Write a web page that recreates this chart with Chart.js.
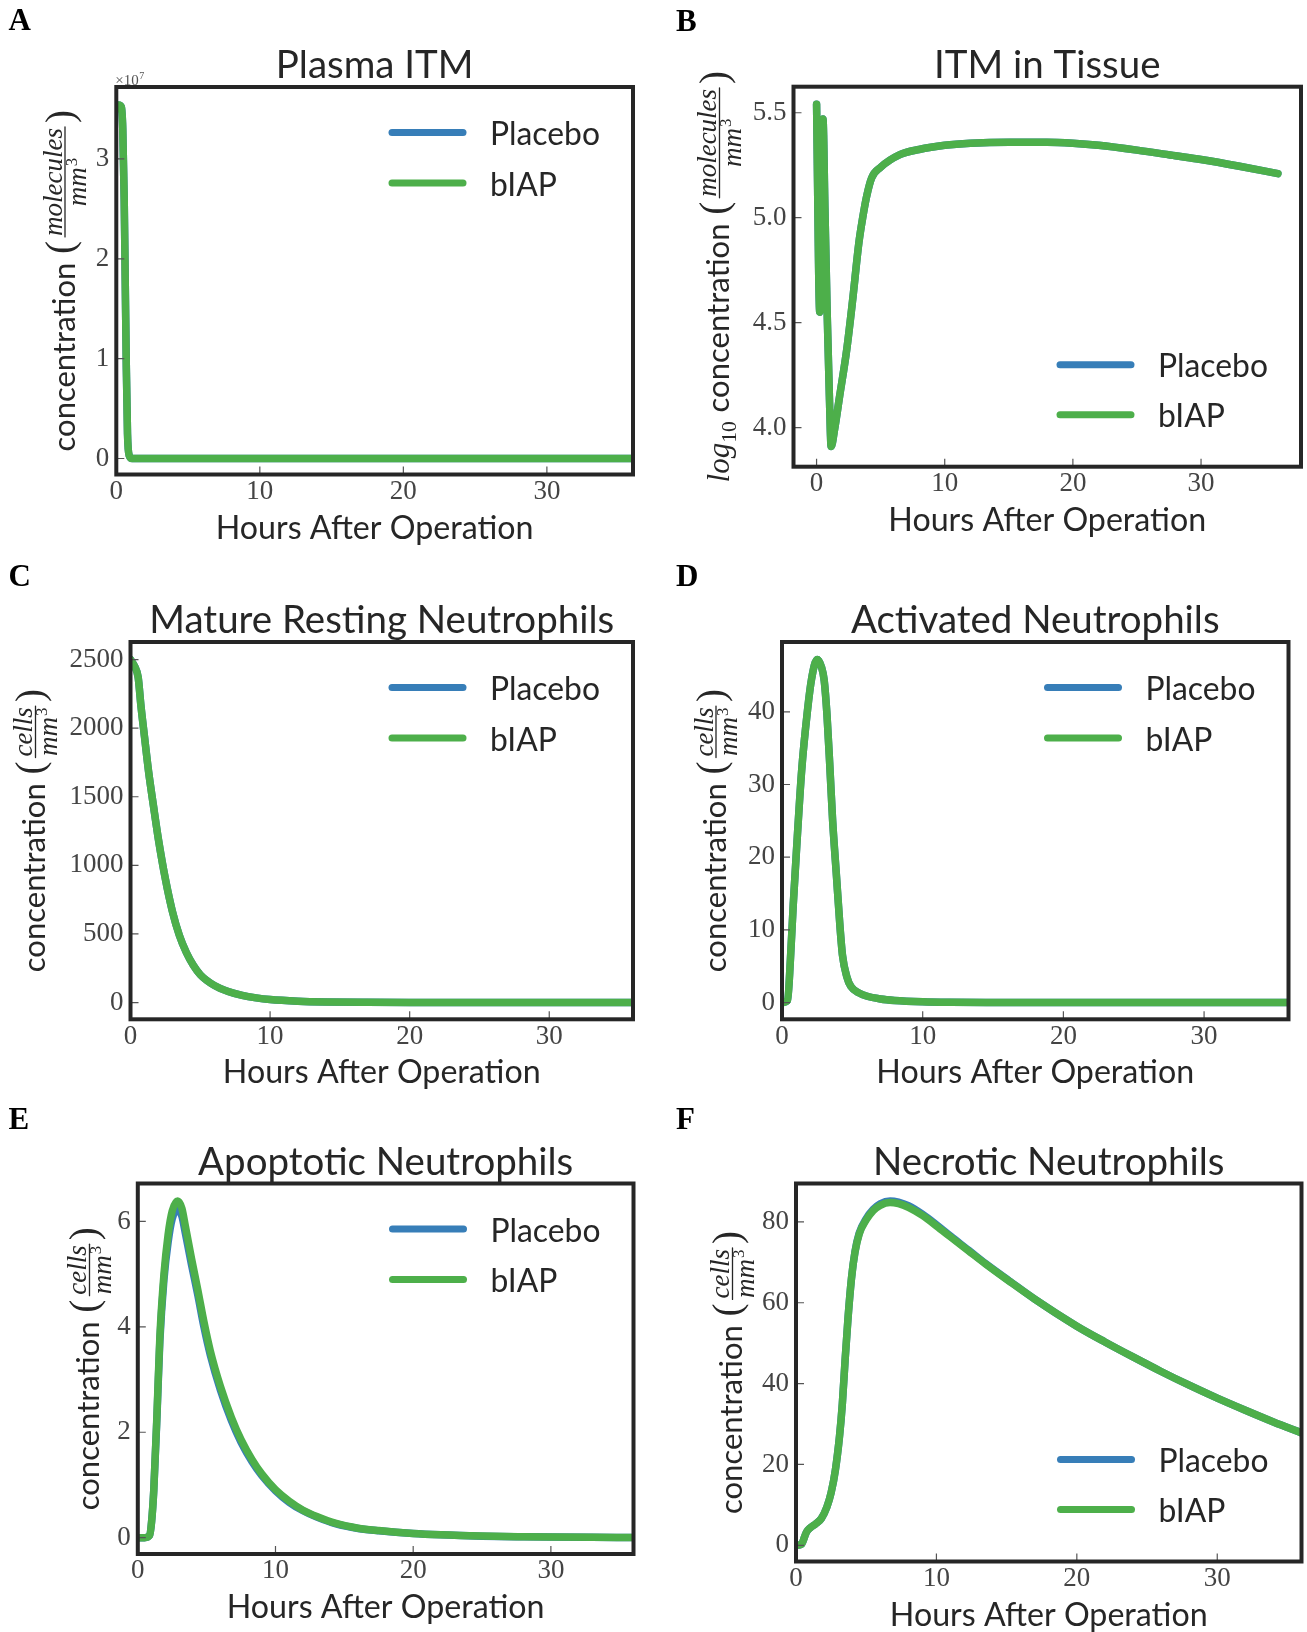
<!DOCTYPE html>
<html>
<head>
<meta charset="utf-8">
<script src="https://cdn.jsdelivr.net/npm/chart.js@4.4.1/dist/chart.umd.min.js"></script>
<style>
  html, body { margin: 0; padding: 0; background: #ffffff; width: 1307px; height: 1632px; overflow: hidden; }
  canvas { position: absolute; left: 0; top: 0; }
</style>
</head>
<body>
<script>
// ---------------- DATA ----------------
const seriesNames = ['Placebo', 'bIAP'];
const panelTitles = ['Plasma ITM', 'ITM in Tissue', 'Mature Resting Neutrophils', 'Activated Neutrophils', 'Apoptotic Neutrophils', 'Necrotic Neutrophils'];
const xTickValues = [0, 10, 20, 30];
const xTickLabels = ['0', '10', '20', '30'];

// A: Plasma ITM (molecules / mm^3)
const hoursA   = [0, 0.15, 0.35, 0.45, 0.55, 0.62, 0.7, 0.78, 0.9, 1.1, 2, 5, 10, 20, 30, 36];
const placeboA = [35000000, 35400000, 35200000, 33000000, 26000000, 18000000, 9000000, 2500000, 300000, 0, 0, 0, 0, 0, 0, 0];
const biapA    = [35000000, 35400000, 35200000, 33000000, 26000000, 18000000, 9000000, 2500000, 300000, 0, 0, 0, 0, 0, 0, 0];
const yTicksA  = [0, 10000000, 20000000, 30000000];
const yLabelsA = ['0', '1', '2', '3'];

// B: ITM in Tissue (log10)
const hoursB   = [0, 0.25, 0.5, 0.65, 0.83, 1.0, 1.14, 1.4, 1.8, 2.35, 2.8, 3.3, 3.6, 3.9, 4.3, 5.0, 6.5, 8, 10, 12, 15, 18, 20, 22, 25, 28, 30, 33, 36];
const placeboB = [5.54, 4.55, 5.47, 5.05, 4.54, 4.15, 3.91, 3.99, 4.15, 4.37, 4.60, 4.88, 5.00, 5.10, 5.19, 5.24, 5.30, 5.325, 5.345, 5.355, 5.36, 5.36, 5.355, 5.345, 5.322, 5.295, 5.277, 5.245, 5.21];
const biapB    = [5.54, 4.55, 5.47, 5.05, 4.54, 4.15, 3.91, 3.99, 4.15, 4.37, 4.60, 4.88, 5.00, 5.10, 5.19, 5.24, 5.30, 5.325, 5.345, 5.355, 5.36, 5.36, 5.355, 5.345, 5.322, 5.295, 5.277, 5.245, 5.21];
const yTicksB  = [4.0, 4.5, 5.0, 5.5];
const yLabelsB = ['4.0', '4.5', '5.0', '5.5'];

// C: Mature Resting Neutrophils
const hoursC   = [0, 0.3, 0.55, 0.75, 1.0, 1.3, 1.65, 2.0, 2.5, 3.0, 3.5, 4.0, 4.5, 5.0, 6.0, 7.0, 8.0, 9.0, 10, 12, 14, 17, 20, 25, 30, 36];
const placeboC = [2500, 2450, 2370, 2160, 1940, 1680, 1430, 1190, 900, 665, 490, 365, 272, 203, 125, 80, 52, 34, 22, 10, 4.5, 1.5, 0.5, 0.1, 0, 0];
const biapC    = [2500, 2450, 2370, 2160, 1940, 1680, 1430, 1190, 900, 665, 490, 365, 272, 203, 125, 80, 52, 34, 22, 10, 4.5, 1.5, 0.5, 0.1, 0, 0];
const yTicksC  = [0, 500, 1000, 1500, 2000, 2500];
const yLabelsC = ['0', '500', '1000', '1500', '2000', '2500'];

// D: Activated Neutrophils
const hoursD   = [0, 0.4, 0.6, 0.8, 1.0, 1.4, 1.8, 2.1, 2.5, 2.8, 3.0, 3.2, 3.4, 3.6, 3.85, 4.1, 4.3, 4.6, 4.9, 5.5, 6, 7, 8, 10, 12, 15, 20, 25, 30, 36];
const placeboD = [0, 0.3, 6, 13.5, 20, 32, 40, 44.5, 47.2, 46.2, 44.3, 39.5, 32.5, 25, 18, 11, 6.5, 3.6, 2.2, 1.3, 0.9, 0.5, 0.3, 0.12, 0.05, 0.02, 0.01, 0, 0, 0];
const biapD    = [0, 0.3, 6, 13.5, 20, 32, 40, 44.5, 47.2, 46.2, 44.3, 39.5, 32.5, 25, 18, 11, 6.5, 3.6, 2.2, 1.3, 0.9, 0.5, 0.3, 0.12, 0.05, 0.02, 0.01, 0, 0, 0];
const yTicksD  = [0, 10, 20, 30, 40];
const yLabelsD = ['0', '10', '20', '30', '40'];

// E: Apoptotic Neutrophils
const hoursE   = [0, 0.5, 0.85, 1.0, 1.16, 1.4, 1.6, 1.9, 2.2, 2.5, 2.9, 3.2, 3.45, 3.9, 4.36, 4.8, 5.27, 6.0, 6.8, 7.5, 8.3, 9, 10, 11, 12, 13, 14.4, 16, 17.5, 20, 22, 25, 28, 30, 33, 36];
const placeboE = [0, 0, 0.04, 0.3, 0.9, 2.35, 3.72, 4.9, 5.6, 6.05, 6.22, 6.1, 5.78, 5.18, 4.6, 4.0, 3.46, 2.8, 2.22, 1.81, 1.44, 1.18, 0.89, 0.67, 0.51, 0.39, 0.26, 0.175, 0.13, 0.078, 0.053, 0.029, 0.017, 0.011, 0.006, 0.004];
const biapE    = [0, 0, 0.04, 0.3, 0.9, 2.4, 3.8, 5.0, 5.75, 6.2, 6.39, 6.25, 5.92, 5.3, 4.7, 4.1, 3.54, 2.87, 2.28, 1.86, 1.48, 1.21, 0.91, 0.69, 0.52, 0.40, 0.27, 0.18, 0.135, 0.08, 0.054, 0.03, 0.017, 0.011, 0.006, 0.004];
const yTicksE  = [0, 2, 4, 6];
const yLabelsE = ['0', '2', '4', '6'];

// F: Necrotic Neutrophils
const hoursF   = [0, 0.4, 0.6, 0.75, 1.0, 1.4, 1.8, 2.2, 2.5, 2.8, 3.1, 3.3, 3.5, 3.7, 3.95, 4.2, 4.5, 5.0, 5.5, 6.0, 6.7, 7.3, 8.0, 9.0, 10, 11, 12.3, 13.5, 15.2, 17, 20, 22, 24, 26, 28, 30, 32, 34, 36];
const placeboF = [0, 0.3, 2.0, 3.3, 4.3, 5.3, 6.6, 9.5, 13, 18.5, 27, 35, 46, 56, 66, 72.6, 77.2, 80.8, 83.1, 84.5, 85.2, 84.9, 84.0, 81.9, 79.3, 76.5, 73.0, 69.7, 65.4, 60.9, 54.2, 50.3, 46.6, 43.0, 39.6, 36.4, 33.4, 30.5, 27.8];
const biapF    = [0, 0.3, 2.0, 3.3, 4.3, 5.3, 6.6, 9.5, 13, 18.5, 27, 35, 46, 56, 66, 72.5, 77, 80.5, 82.8, 84.1, 84.8, 84.5, 83.6, 81.6, 79.0, 76.3, 72.8, 69.6, 65.3, 60.9, 54.2, 50.3, 46.6, 43.0, 39.6, 36.4, 33.4, 30.5, 27.8];
const yTicksF  = [0, 20, 40, 60, 80];
const yLabelsF = ['0', '20', '40', '60', '80'];

// ---------------- STYLE / LAYOUT ----------------
const COLORS = ['#377eb8', '#4daf4a'];
const TEXT = '#262626';
const TICKTEXT = '#444444';
const SPINE = '#262626';
const TICKMARK = '#555555';
const SANS = 'Lato';
const SERIF = '"Liberation Serif"';

const mctx = document.createElement('canvas').getContext('2d');
function fitSize(style, family, text, target) {
  mctx.font = style + ' 100px ' + family;
  return 100 * target / mctx.measureText(text).width;
}
const SIZES = {
  title: fitSize('', SANS, 'Mature Resting Neutrophils', 465),
  legend: fitSize('', SANS, 'Placebo', 110),
  xlab: fitSize('', SANS, 'Hours After Operation', 318),
  conc: fitSize('', SANS, 'concentration', 189),
  frac: fitSize('italic', SERIF, 'molecules', 108),
  paren: 39,
  tick: 27
};

const PANELS = [
  { letter: 'A', lx: 8.5, ly: 30, title: panelTitles[0], area: {L: 116.3, T: 87, R: 633, B: 474.5},
    xMin: 0, xMax: 36, yMin: -1600000, yMax: 37200000, yTicks: yTicksA, yLabels: yLabelsA,
    hours: hoursA, placebo: placeboA, biap: biapA, legend: 'top', log: false, numer: 'molecules', labelX: 74.5, offset: true },
  { letter: 'B', lx: 676, ly: 30.5, title: panelTitles[1], area: {L: 793.5, T: 86.7, R: 1301, B: 466.7},
    xMin: -1.8, xMax: 37.8, yMin: 3.814, yMax: 5.624, yTicks: yTicksB, yLabels: yLabelsB,
    hours: hoursB, placebo: placeboB, biap: biapB, legend: 'bottom', log: true, numer: 'molecules', labelX: 729 },
  { letter: 'C', lx: 8.5, ly: 586, title: panelTitles[2], area: {L: 130.5, T: 642, R: 633, B: 1019.3},
    xMin: 0, xMax: 36, yMin: -122, yMax: 2628, yTicks: yTicksC, yLabels: yLabelsC,
    hours: hoursC, placebo: placeboC, biap: biapC, legend: 'top', log: false, numer: 'cells', labelX: 45 },
  { letter: 'D', lx: 676, ly: 586, title: panelTitles[3], area: {L: 782, T: 642, R: 1288.5, B: 1019.3},
    xMin: 0, xMax: 36, yMin: -2.3, yMax: 49.6, yTicks: yTicksD, yLabels: yLabelsD,
    hours: hoursD, placebo: placeboD, biap: biapD, legend: 'top', log: false, numer: 'cells', labelX: 725.5 },
  { letter: 'E', lx: 8.5, ly: 1129, title: panelTitles[4], area: {L: 137.8, T: 1183.5, R: 633.5, B: 1554},
    xMin: 0, xMax: 36, yMin: -0.31, yMax: 6.72, yTicks: yTicksE, yLabels: yLabelsE,
    hours: hoursE, placebo: placeboE, biap: biapE, legend: 'top', log: false, numer: 'cells', labelX: 99 },
  { letter: 'F', lx: 676, ly: 1129, title: panelTitles[5], area: {L: 796, T: 1183.5, R: 1301.5, B: 1561.5},
    xMin: 0, xMax: 36, yMin: -4.0, yMax: 89.5, yTicks: yTicksF, yLabels: yLabelsF,
    hours: hoursF, placebo: placeboF, biap: biapF, legend: 'bottom', log: false, numer: 'cells', labelX: 742 }
];

function toPoints(xs, ys) { return xs.map((x, i) => ({x: x, y: ys[i]})); }

function drawYLabel(ctx, p) {
  const cy = (p.area.T + p.area.B) / 2;
  ctx.save();
  ctx.translate(p.labelX, cy);
  ctx.rotate(-Math.PI / 2);
  ctx.fillStyle = TEXT; ctx.strokeStyle = TEXT;
  ctx.textBaseline = 'alphabetic'; ctx.textAlign = 'left';
  const fLog = 'italic ' + SIZES.conc + 'px ' + SERIF;
  const fSub = (SIZES.conc * 0.7) + 'px ' + SERIF;
  const fConc = SIZES.conc + 'px ' + SANS;
  const fParen = SIZES.paren + 'px ' + SERIF;
  const fFrac = 'italic ' + SIZES.frac + 'px ' + SERIF;
  const fSup = (SIZES.frac * 0.62) + 'px ' + SERIF;
  const W = (f, t) => { ctx.font = f; return ctx.measureText(t).width; };
  const space = SIZES.conc * 0.28;
  let wLog = 0;
  if (p.log) wLog = W(fLog, 'log') + W(fSub, '10') + space;
  const wConc = W(fConc, 'concentration');
  const wPar = W(fParen, '(');
  const wNum = W(fFrac, p.numer);
  const wMm = W(fFrac, 'mm');
  const wSup = W(fSup, '3');
  const wDen = wMm + wSup + 1;
  const wFrac = Math.max(wNum, wDen) + 4;
  const gap = 3;
  const total = wLog + wConc + space + wPar + gap + wFrac + gap + wPar;
  let u = -total / 2;
  if (p.log) {
    ctx.font = fLog; ctx.fillText('log', u, 0); u += W(fLog, 'log');
    ctx.font = fSub; ctx.fillText('10', u, 7); u += W(fSub, '10') + space;
  }
  ctx.font = fConc; ctx.fillText('concentration', u, 0); u += wConc + space;
  ctx.font = fParen; ctx.fillText('(', u, -2); u += wPar + gap;
  const fc = u + wFrac / 2;
  ctx.textAlign = 'center'; ctx.font = fFrac; ctx.fillText(p.numer, fc, -13);
  ctx.lineWidth = 1.3; ctx.beginPath(); ctx.moveTo(u + 1, -9.5); ctx.lineTo(u + wFrac - 1, -9.5); ctx.stroke();
  ctx.textAlign = 'left';
  const dx = fc - wDen / 2;
  ctx.font = fFrac; ctx.fillText('mm', dx, 11.5);
  ctx.font = fSup; ctx.fillText('3', dx + wMm + 1, 2);
  u += wFrac + gap;
  ctx.font = fParen; ctx.fillText(')', u, -2);
  ctx.restore();
}

function makePanel(p) {
  const canvas = document.createElement('canvas');
  canvas.width = 1307; canvas.height = 1632;
  document.body.appendChild(canvas);
  const {L, T, R, B} = p.area;
  const YW = 75, XH = 32;
  const decor = {
    id: 'decor' + p.letter,
    afterDraw(chart) {
      const ctx = chart.ctx;
      const ca = chart.chartArea;
      const xs = chart.scales.x, ys = chart.scales.y;
      ctx.save();
      // inward tick marks
      ctx.strokeStyle = TICKMARK; ctx.lineWidth = 1.2;
      ctx.beginPath();
      xs.ticks.forEach(t => { const px = xs.getPixelForValue(t.value); ctx.moveTo(px, ca.bottom); ctx.lineTo(px, ca.bottom - 8); });
      ys.ticks.forEach(t => { const py = ys.getPixelForValue(t.value); ctx.moveTo(ca.left, py); ctx.lineTo(ca.left + 8, py); });
      ctx.stroke();
      // frame
      ctx.strokeStyle = SPINE; ctx.lineWidth = 4;
      ctx.strokeRect(ca.left, ca.top, ca.right - ca.left, ca.bottom - ca.top);
      // title
      ctx.fillStyle = TEXT; ctx.textAlign = 'center'; ctx.textBaseline = 'alphabetic';
      ctx.font = SIZES.title + 'px ' + SANS;
      ctx.fillText(p.title, (ca.left + ca.right) / 2, ca.top - 9);
      // x label
      ctx.font = SIZES.xlab + 'px ' + SANS;
      ctx.fillText('Hours After Operation', (ca.left + ca.right) / 2, ca.bottom + 64);
      // legend
      const rows = p.legend === 'top' ? [ca.top + 45.5, ca.top + 96] : [ca.bottom - 102, ca.bottom - 52];
      chart.data.datasets.forEach((ds, i) => {
        const y = rows[i];
        ctx.strokeStyle = ds.borderColor; ctx.lineWidth = 7; ctx.lineCap = 'round';
        ctx.beginPath(); ctx.moveTo(ca.right - 241, y); ctx.lineTo(ca.right - 170, y); ctx.stroke();
        ctx.fillStyle = TEXT; ctx.textAlign = 'left'; ctx.font = SIZES.legend + 'px ' + SANS;
        ctx.fillText(ds.label, ca.right - 143, y + 12.5);
      });
      // y label
      drawYLabel(ctx, p);
      // offset text
      if (p.offset) {
        ctx.fillStyle = '#555'; ctx.textAlign = 'left';
        ctx.font = '15px ' + SERIF;
        ctx.fillText('\u00d710', ca.left - 1, ca.top - 2);
        const w = ctx.measureText('\u00d710').width;
        ctx.font = '10px ' + SERIF;
        ctx.fillText('7', ca.left - 1 + w + 0.5, ca.top - 8);
      }
      // panel letter
      ctx.fillStyle = '#000'; ctx.textAlign = 'left';
      ctx.font = 'bold 31px ' + SERIF;
      ctx.fillText(p.letter, p.lx, p.ly);
      ctx.restore();
    }
  };
  const common = { borderWidth: 7.5, pointRadius: 0, pointHoverRadius: 0, fill: false,
    cubicInterpolationMode: 'monotone', borderCapStyle: 'round', borderJoinStyle: 'round', clip: 0 };
  new Chart(canvas.getContext('2d'), {
    type: 'line',
    data: { datasets: [
      Object.assign({ label: seriesNames[0], data: toPoints(p.hours, p.placebo), borderColor: COLORS[0], order: 2 }, common),
      Object.assign({ label: seriesNames[1], data: toPoints(p.hours, p.biap), borderColor: COLORS[1], order: 1 }, common)
    ] },
    options: {
      responsive: false, animation: false, events: [],
      layout: { autoPadding: false, padding: { left: L - YW, top: T, right: 1307 - R, bottom: 1632 - B - XH } },
      plugins: { legend: { display: false }, tooltip: { enabled: false }, title: { display: false } },
      scales: {
        x: { type: 'linear', min: p.xMin, max: p.xMax,
          afterBuildTicks: s => { s.ticks = xTickValues.map(v => ({ value: v })); },
          afterFit: s => { s.height = XH; },
          grid: { display: false, drawTicks: false }, border: { display: false },
          ticks: { font: { family: SERIF, size: SIZES.tick }, color: TICKTEXT, padding: 1, maxRotation: 0, autoSkip: false,
            callback: (v, i) => xTickLabels[i] } },
        y: { type: 'linear', min: p.yMin, max: p.yMax,
          afterBuildTicks: s => { s.ticks = p.yTicks.map(v => ({ value: v })); },
          afterFit: s => { s.width = YW; },
          grid: { display: false, drawTicks: false }, border: { display: false },
          ticks: { font: { family: SERIF, size: SIZES.tick }, color: TICKTEXT, padding: 7, autoSkip: false,
            callback: (v, i) => p.yLabels[i] } }
      }
    },
    plugins: [decor]
  });
}

PANELS.forEach(makePanel);
</script>
</body>
</html>
